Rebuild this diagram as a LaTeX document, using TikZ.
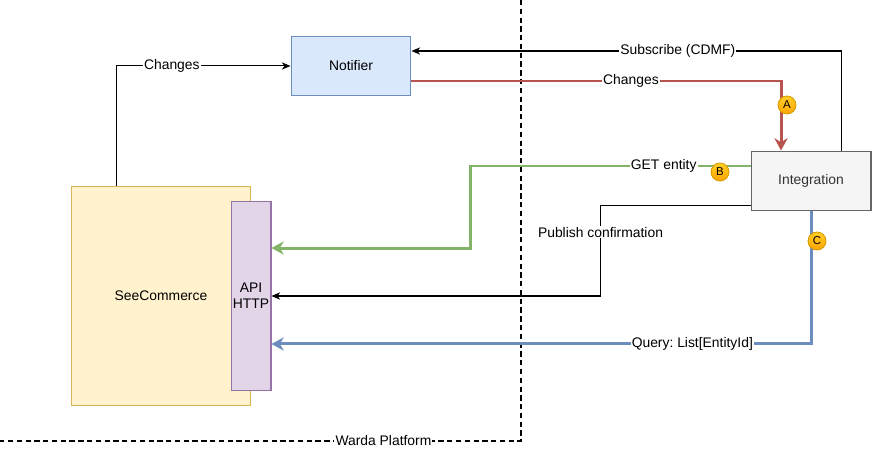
\documentclass[tikz,border=0pt]{standalone}
\usepackage{fontspec}
\setmainfont{Liberation Sans}
\usetikzlibrary{arrows.meta}
\definecolor{notifFill}{HTML}{DAE8FC}
\definecolor{notifLine}{HTML}{6C8EBF}
\definecolor{shopFill}{HTML}{FFF2CC}
\definecolor{shopLine}{HTML}{D6B656}
\definecolor{apiFill}{HTML}{E1D5E7}
\definecolor{apiLine}{HTML}{9673A6}
\definecolor{integFill}{HTML}{F5F5F5}
\definecolor{integLine}{HTML}{666666}
\definecolor{integText}{HTML}{333333}
\definecolor{redFlow}{HTML}{B85450}
\definecolor{greenFlow}{HTML}{82B366}
\definecolor{blueFlow}{HTML}{6C8EBF}
\definecolor{badgeTop}{HTML}{FFCD28}
\definecolor{badgeBot}{HTML}{FFA500}
\definecolor{badgeLine}{HTML}{D79B00}
\newcommand{\flowBadge}[4]{%
    \node[badge] (#1) at (#2,#3) {#4};
}
\frenchspacing

\begin{document}
\begin{tikzpicture}[x=0.02cm, y=-0.02cm,
    font=\fontsize{7.9}{9.2}\selectfont,
    box/.style={draw, line width=0.57pt, align=center, inner sep=0pt},
    thinflow/.style={line width=0.57pt, -{Stealth[length=5pt, width=4.2pt]}},
    thickflow/.style={line width=1.7pt, -{Stealth[length=7pt, width=7.5pt]}},
    lbl/.style={fill=white, inner sep=0.6pt},
    badge/.style={circle, draw=badgeLine, line width=0.5pt, top color=badgeTop,
        bottom color=badgeBot, minimum size=0.36cm, inner sep=0pt,
        font=\fontsize{6.5}{7}\selectfont}]
    \useasboundingbox (0,0) rectangle (872,449);
    % platform border
    \draw[line width=1.1pt, dash pattern=on 3pt off 2pt] (521,0) |- (0,441)
        node[lbl, pos=0.632] (platform) {Warda Platform};
    % boxes
    \node[box, fill=notifFill, draw=notifLine, minimum width=2.4cm, minimum height=1.2cm]
        (notifier) at (351,66) {Notifier};
    \node[box, fill=shopFill, draw=shopLine, minimum width=3.6cm, minimum height=4.4cm]
        (seecom) at (161,296) {SeeCommerce};
    \node[box, fill=apiFill, draw=apiLine, minimum width=0.8cm, minimum height=3.8cm]
        (api) at (251,296) {API\\HTTP};
    \node[box, fill=integFill, draw=integLine, text=integText, minimum width=2.4cm,
        minimum height=1.2cm] (integ) at (811,181) {Integration};
    % black connectors
    \draw[thinflow] (seecom.north) ++(-45,0) |- (notifier.west)
        node[lbl, pos=0.66] {Changes};
    \draw[thinflow] (integ.north) ++(30,0) |- ([yshift=0.3cm]notifier.east)
        node[lbl, pos=0.69] {Subscribe (CDMF)};
    \draw[thinflow] ([yshift=-0.5cm]integ.west) -- ++(-150,0) |- (api.east)
        node[lbl, pos=0.145] {Publish confirmation};
    % coloured flows
    \draw[thickflow, redFlow] ([yshift=-0.3cm]notifier.east) -| ([xshift=-0.6cm]integ.north)
        node[lbl, text=black, pos=0.297] {Changes};
    \draw[thickflow, greenFlow] ([yshift=0.3cm]integ.west) -- node[lbl, text=black, pos=0.31] {GET entity}
        ++(-280,0) |- ([yshift=0.96cm]api.east);
    \draw[thickflow, blueFlow] (integ.south) |- ([yshift=-0.96cm]api.east)
        node[lbl, text=black, pos=0.61] {Query: List[EntityId]};
    % badges
    \flowBadge{badgeA}{787}{105}{A}
    \flowBadge{badgeB}{720}{172}{B}
    \flowBadge{badgeC}{817}{241}{C}
\end{tikzpicture}
\end{document}
